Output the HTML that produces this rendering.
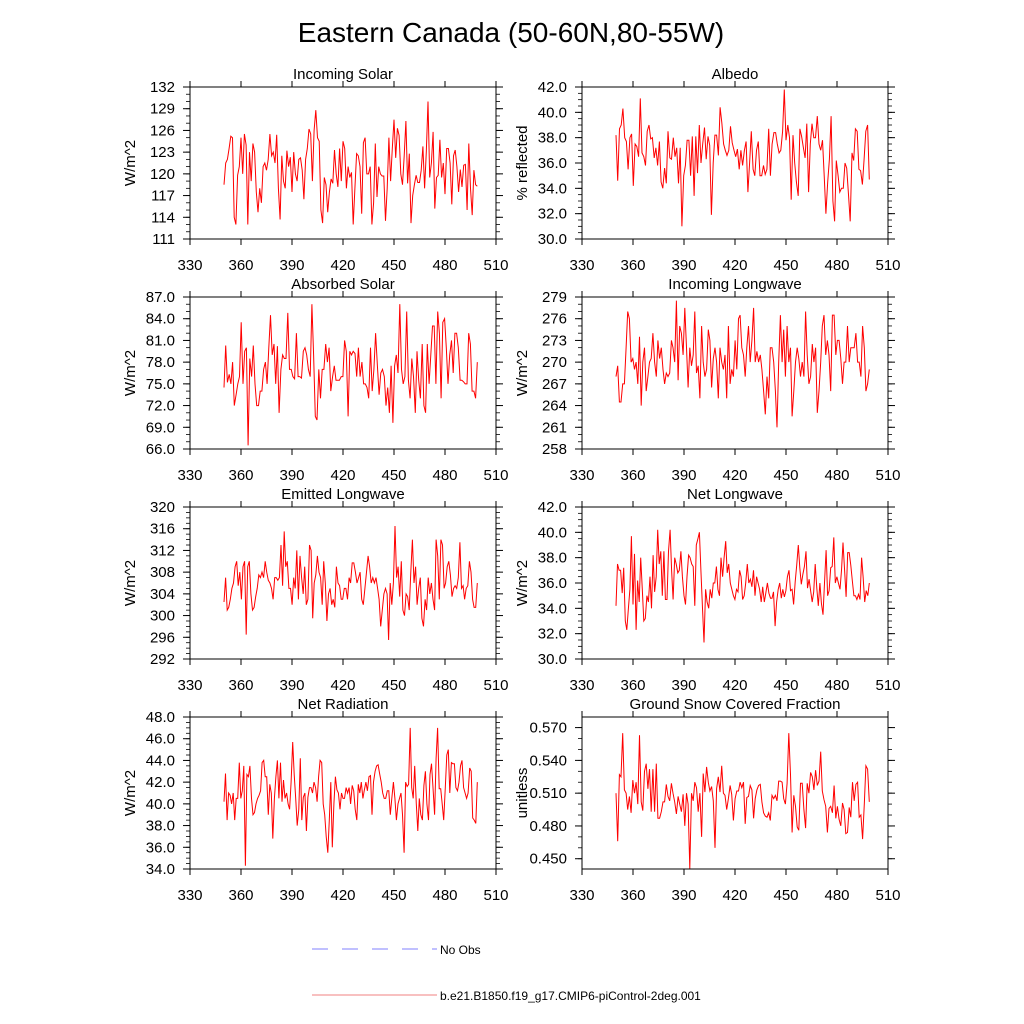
<!DOCTYPE html>
<html><head><meta charset="utf-8"><style>
body{margin:0;background:#fff}
svg{display:block;font-family:"Liberation Sans",sans-serif}
</style></head><body>
<svg id="chart" width="1024" height="1024" viewBox="0 0 1024 1024" xmlns="http://www.w3.org/2000/svg">
<rect width="1024" height="1024" fill="#fff"/>
<text x="511" y="42" font-size="28" text-anchor="middle">Eastern Canada (50-60N,80-55W)</text>
<g>
<line x1="312" y1="949" x2="437" y2="949" stroke="#8080ff" stroke-width="1" stroke-dasharray="16,14"/>
<text x="440" y="954" font-size="12">No Obs</text>
<line x1="312" y1="995" x2="437" y2="995" stroke="#f08080" stroke-width="1"/>
<text x="440" y="1000" font-size="12">b.e21.B1850.f19_g17.CMIP6-piControl-2deg.001</text>
</g>
</svg>
<script>
const incomingSolar=[118.5,121.5,122,123.5,125.2,125,114,113,119.8,121,125,120,125.5,124,113,123,119,124.2,123,117.5,114.7,118,116,121,121.5,120.5,122,125.5,122.5,123,121.5,125.4,118,113.7,122.5,119,118,123.2,121,122.3,117.5,123,120,119,122,122.2,120.5,116.5,122,123.5,126.2,125.5,119,126,128.8,125,124.5,115,113.2,119.5,118.5,114.7,117.5,119.3,118.7,123.3,120,118.2,123.5,119,124.5,123.5,118,121,119.5,120.2,113,118,122.8,122.5,121,114.5,124.3,125,120,120,121,113,116,124.2,116.8,121,120,119.7,119.7,113.5,118,125,119,123.5,127.5,122.2,126.3,125.3,120,118.5,122.5,127.3,118.7,122.8,113.2,117,118.5,119.8,118.8,118.8,120.5,123.8,118,123,130,119.5,121.5,125.8,115.2,119.5,119.8,124.7,119.5,121.5,117.2,123.5,123.5,121.5,115.8,122.5,123.3,121,117.5,120.6,118.2,121.2,121.3,115,124.2,118,114.3,120.5,118.5,118.3];
const albedo=[38.2,34.6,38.7,39,40.3,38,37.7,35.5,38,38.3,34.2,37.5,37.3,36.5,41.1,36.8,36.5,35.8,38.5,39,37.9,38,36.4,37.2,35.8,37.7,34.5,34,35.6,34.4,38.5,36.4,36.3,38,36.5,37.2,34.4,37.2,31,35,35.8,37.8,37.8,35,38.1,33.4,38.1,35.2,39,36,37.5,38.8,36.3,38.1,37.4,31.9,36,38.2,38.2,36.6,40.4,39.2,37.5,37,36.6,37,38.9,37.6,37,36.5,37.1,35.5,37,35.8,37,37.7,33.7,36,38.5,35.5,35,37,37.7,35,35,35.8,35.1,35.5,38.7,35,37.5,38.4,38.4,37.5,36.8,37,38.5,41.8,37.8,39,38,33.1,38.2,36,34.5,33.4,38.7,38.1,37.2,36.4,39.1,33.7,37.5,39.1,38,38,39.7,37.5,37,37.8,35,32,34.5,36.3,39.7,33,31.4,36.2,35,33.7,34,34,36,35.6,33.5,31.4,36.8,36.2,38.7,38.5,35.5,35.4,34.3,36.3,38.5,39,34.7];
const absorbedSolar=[74.5,80.3,75.2,76.3,75,78,72,73.5,75,76,83.5,75,79.5,80,66.5,78.5,76,80.3,75,72,72,74,74,77,78,75,80,84.5,79,80.5,75,80.2,71,77,79,78.5,78.5,84.8,77,77,76,75.7,82,76,76,75.8,79.5,80,79,77,76,86,79,70.5,70,77,73,77,77,80.5,78,80,74,76,77.5,75.5,75.5,75.5,76,76,81,79.5,70.5,79.5,79,79.5,79.2,76,80,76,78,75,75,74.5,73,80,74,77,82,77.5,73.5,76.5,77,76,72,74.5,71,77.5,69.6,77.5,79,76.5,86,77,75,76,85,75.5,73,78.5,76,71,79.5,75.5,73,80.5,72,71,80.5,75,79,83,83,75,85,82,73,83.5,84,80,75,79,81,76.5,82,82,80,75.5,75.5,75.3,75,75,82,80.5,74,74,73,78];
const incomingLW=[268,269.5,264.5,264.5,267,267,272,277,276,270,270.5,269,270,267,273.5,264,270,272,266,268,270,270.5,274,270,268,273,270.5,272,269,267,268.5,268,268.5,273,272,270,278.5,267.5,275,274,271,277.5,272,266.5,272,269.5,271,277,268.5,269.5,265,275,270,268,269,274.5,273,266.5,270.5,272,270,265,272,270,269,271,265,275,267,269,268,273,269,276,276.5,272,271,268,272,275,270,273,277.5,270,271.5,270,271,269,266,262.8,268,265,272,272,270,266,261,270,276.5,270,274.5,268,275,270,272,262.5,266,270,272,270.5,268,270,268,277,271,267,268,272.5,270,272,263,266,270,275,276.5,271,273,271,266,276.5,276.5,271,273,273,270.5,267,270,270,275,270,272,272,272,274,270,270,268,275,272,266,267,269];
const emittedLW=[302.5,307,301,301.5,303,305,306,309,310,305.5,308,303,309,310,296.5,309,310,304,301,301.5,303.5,305,307.5,307,308,307,310,308,306.5,306,305,303,307,307,306.5,307,313,305.5,315.5,309,310,305,305,302,307,305,312,303,311,307,304,309,302,303,313,312,299.5,306,307.5,311,308,307,302,310,306,299,304,305,302,303,301.5,309,306,305.5,303,303,305,305,303,307,306,309.7,309.7,308,306,307,308,303,302,305,308,311,309,306,307,306,307,305,303,298,301,304,305,304,295.5,306,302,306,316.5,307,309,303.5,310,301,300,304,303.5,301,308,314,306,309,302,305,307,299.5,298,303,301,307,304,306,303,301,314,311,303,314,313,305,306,309,310,307.5,303.5,305,305.5,305,307,313.5,305,305.5,303,305,305.5,310,308,303,301.5,301.5,306];
const netLW=[34.2,37.5,37,37,35.2,37.2,33,32.3,34,35.5,39.7,34.3,38.3,32.3,36.2,34.5,38,35.5,33,33.2,35,34.5,36.5,34,38.2,35.3,36.5,40.2,37.5,38.5,35,38.5,34.7,34.7,38.5,40.2,37,34.7,38,37.5,36.8,37,38.5,36.5,35,34.3,36.5,38.2,38,37.5,37.3,34.2,39,39.5,40,37,34,31.3,35.5,34.5,34,35.5,34.8,36,36,37.3,35.5,35,38,36.5,38,39.3,36.8,37.5,36,35.5,35,34.7,35.5,35.3,37,36.5,34.7,35,36,37.5,36,36.3,35.7,37,35,36.5,36,35.5,34.5,35.7,34.5,35.2,36,35.2,34.8,34.8,35.3,32.6,34.5,35.5,36,34.8,35.5,34.9,35.4,36.5,37,35.4,35.5,34.3,36.1,37.4,39,37.2,35.9,36.7,37.3,38.5,35.6,36.3,35.4,34.5,35.3,37.5,35.6,34.2,36,34.4,33.5,36,38.6,35,35.4,37.2,37.3,39.6,36,36.5,36,35.5,37,39.2,37,34.9,38.4,38.4,37.4,36.2,35,35,34.7,35.1,34.7,38,36.5,34.5,35.4,35,36];
const netRad=[40.2,42.8,38.5,41,40.8,40,41,38.5,40.5,40.5,43.8,40.5,41.2,43.5,34.3,42.7,42.5,43.5,40.5,39,39.2,40,40.5,40.8,41.2,43.8,44,42.5,42.5,39,41.8,41,36.8,40.5,42.5,44,40.5,43.8,40.2,42.2,40.5,41,40,39.5,42,45.7,42.7,40.5,38,39.5,44.2,38.5,40.6,41,37.5,40.6,41.5,41.5,41,42,41.5,40.2,42.5,44,43.8,40,39,37,35.5,38.5,42,36,40,42.5,41.3,41,39.5,41,40.5,40.5,41.5,41,41.5,40,41.7,41.2,39.5,38.5,41.8,41,42,40.5,41.3,42,41.2,42.5,42.6,39,42,43,43.5,43.6,42.8,42,41,40.5,40.5,41.2,41.2,39,40.5,42,40.5,38.5,40,40.5,41,39,35.5,42,41.6,41.8,47,41.5,40.5,43.5,40,37.5,40.5,39,38.5,41.7,43,40,38.5,42.7,43.7,41.5,39,44.2,47,41.4,41.4,40,38.5,41.5,44.5,45,41,43.8,43.7,43.7,41.5,41.2,42,43.5,44,41.5,41,40.5,41,43.3,43,38.7,38.5,38.2,42];
const snowFrac=[0.510,0.466,0.527,0.525,0.565,0.513,0.510,0.495,0.507,0.492,0.522,0.510,0.520,0.500,0.563,0.502,0.494,0.530,0.537,0.514,0.532,0.493,0.532,0.493,0.537,0.487,0.487,0.493,0.502,0.502,0.518,0.507,0.503,0.519,0.510,0.502,0.491,0.507,0.500,0.493,0.509,0.480,0.510,0.500,0.441,0.510,0.503,0.520,0.515,0.493,0.510,0.470,0.528,0.511,0.534,0.520,0.512,0.516,0.503,0.460,0.514,0.525,0.511,0.535,0.510,0.508,0.495,0.505,0.517,0.509,0.485,0.505,0.512,0.512,0.520,0.515,0.520,0.482,0.506,0.507,0.517,0.513,0.487,0.505,0.513,0.517,0.518,0.502,0.492,0.489,0.488,0.492,0.485,0.508,0.505,0.508,0.503,0.521,0.521,0.520,0.505,0.500,0.519,0.565,0.527,0.474,0.508,0.498,0.479,0.476,0.519,0.519,0.495,0.478,0.519,0.510,0.529,0.525,0.513,0.531,0.517,0.521,0.548,0.512,0.504,0.498,0.474,0.496,0.498,0.492,0.517,0.487,0.498,0.486,0.480,0.501,0.495,0.473,0.474,0.497,0.488,0.520,0.503,0.518,0.520,0.488,0.490,0.468,0.500,0.535,0.532,0.502];
const xTicks=[330,360,390,420,450,480,510];
const panelTitles=["Incoming Solar","Albedo","Absorbed Solar","Incoming Longwave","Emitted Longwave","Net Longwave","Net Radiation","Ground Snow Covered Fraction"];
const yTitles=["W/m^2","% reflected","W/m^2","W/m^2","W/m^2","W/m^2","W/m^2","unitless"];
const panelSeries=[incomingSolar,albedo,absorbedSolar,incomingLW,emittedLW,netLW,netRad,snowFrac];
const yMins=[111,30,66,258,292,30,34,0.4406];
const yMaxs=[132,42,87,279,320,42,48,0.5797];
const yTickStart=[111,30,66,258,292,30,34,0.45];
const yTickStep=[3,2,3,3,4,2,2,0.03];
const yMinorStep=[1,0.5,1,1,1,0.5,0.5,0.01];
const yDecimals=[0,1,1,0,0,1,1,3];
const yearStart=350, yearEnd=499;

const svg=document.getElementById('chart');
const NS='http://www.w3.org/2000/svg';
function mk(tag,attrs,parent){const e=document.createElementNS(NS,tag);for(const k in attrs)e.setAttribute(k,attrs[k]);parent.appendChild(e);return e;}
const colX=[190,582], rowY=[87,297,507,717], W=306, H=152;
panelSeries.forEach((data,p)=>{
  const x0=colX[p%2], y0=rowY[Math.floor(p/2)];
  const g=mk('g',{},svg);
  
  
  const xs=v=>x0+(v-330)/(510-330)*W;
  const ys=v=>y0+H-(v-yMins[p])/(yMaxs[p]-yMins[p])*H;
  const t=mk('text',{x:x0+W/2,y:y0-8,'font-size':15,'text-anchor':'middle'},g);
  t.textContent=panelTitles[p];
  
  
  for(let v=yTickStart[p]-Math.floor((yTickStart[p]-yMins[p])/yMinorStep[p])*yMinorStep[p]; v<=yMaxs[p]+1e-9; v+=yMinorStep[p]){
    const y=ys(v);
    mk('line',{x1:x0-4,x2:x0,y1:y,y2:y,stroke:'#000','stroke-width':0.8},g);
    mk('line',{x1:x0+W,x2:x0+W+4,y1:y,y2:y,stroke:'#000','stroke-width':0.8},g);
  }
  for(let v=yTickStart[p]; v<=yMaxs[p]+1e-9; v+=yTickStep[p]){
    const y=ys(v);
    mk('line',{x1:x0-7,x2:x0,y1:y,y2:y,stroke:'#000','stroke-width':1},g);
    mk('line',{x1:x0+W,x2:x0+W+7,y1:y,y2:y,stroke:'#000','stroke-width':1},g);
    const l=mk('text',{x:x0-15,y:y+5,'font-size':15,'text-anchor':'end'},g);
    l.textContent=v.toFixed(yDecimals[p]);
    
    
  }
  xTicks.forEach(v=>{
    const x=xs(v);
    mk('line',{x1:x,x2:x,y1:y0-6,y2:y0,stroke:'#000','stroke-width':1},g);
    mk('line',{x1:x,x2:x,y1:y0+H,y2:y0+H+6,stroke:'#000','stroke-width':1},g);
    const l=mk('text',{x:x,y:y0+H+31,'font-size':15,'text-anchor':'middle'},g);
    l.textContent=v;
    
    
  });
  const yt=mk('text',{x:0,y:0,'font-size':15,'text-anchor':'middle',transform:`translate(${x0-55},${y0+H/2}) rotate(-90)`},g);
  yt.textContent=yTitles[p];
  
  
  const n=data.length;
  const pts=data.map((v,i)=>{const yr=yearStart+i*(yearEnd-yearStart)/(n-1);return xs(yr).toFixed(1)+','+ys(v).toFixed(1);}).join(' ');
  const pl=mk('polyline',{points:pts,fill:'none',stroke:'#ff0000','stroke-width':1},g);
  
  
  const box=mk('rect',{x:x0,y:y0,width:W,height:H,fill:'none',stroke:'#000','stroke-width':1},g);
  
  
});
</script>
</body></html>
